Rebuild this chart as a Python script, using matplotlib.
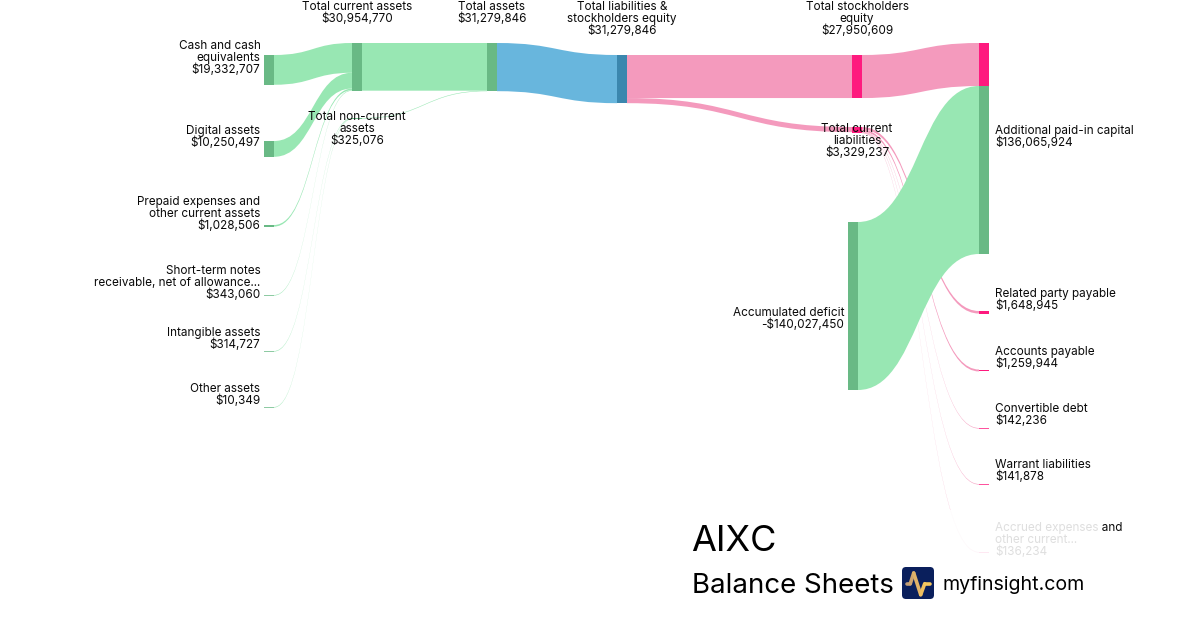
import matplotlib
matplotlib.use("Agg")
import numpy as np
import matplotlib.pyplot as plt
from matplotlib.path import Path
from matplotlib.patches import PathPatch, Rectangle, FancyBboxPatch
from matplotlib.collections import LineCollection

plt.rcParams['font.family'] = ['Inter', 'DejaVu Sans']

# ---- data (US$) ----
cash = 19332707
digital = 10250497
prepaid = 1028506
notes = 343060
intangible = 314727
other_assets = 10349
current_assets = 30954770
noncurrent_assets = 325076
total_assets = 31279846
liab_equity = 31279846
equity = 27950609
current_liab = 3329237
paid_in = 136065924
deficit = -140027450
related = 1648945
payable = 1259944
convertible = 142236
warrant = 141878
accrued = 136234

# ---- layout (pixels) ----
PX = 1.54e-6
PX_EQ = 168 / 140027450
MIN_LINK = 0.55
MIN_NODE = 1.0
NW = 10
GREEN_L, GREEN_N = '#98E7B3', '#69B985'
BLUE_L, BLUE_N = '#68B6DD', '#3B87AE'
PINK_L, PINK_N = '#F49ABD', '#FE1A7E'

nodes = {
    'cash': (264, 55, GREEN_N), 'digital': (264, 141, GREEN_N), 'prepaid': (264, 225, GREEN_N),
    'notes': (264, 295, GREEN_N), 'intangible': (264, 351, GREEN_N), 'other': (264, 407, GREEN_N),
    'tca': (352, 43, GREEN_N), 'tnca': (352, 118, GREEN_N), 'ta': (487, 43, GREEN_N),
    'tle': (617, 55, BLUE_N), 'tse': (852, 55, PINK_N), 'tcl': (852, 127, PINK_N),
    'eq': (979, 43, PINK_N), 'deficit': (848, 222, GREEN_N), 'apic': (979, 86, GREEN_N),
    'related': (979, 311, PINK_N), 'payable': (979, 369.5, PINK_N), 'convertible': (979, 428, PINK_N),
    'warrant': (979, 484, PINK_N), 'accrued': (979, 552, PINK_N),
}

links = [
    ('cash', 'tca', cash, GREEN_L, PX), ('digital', 'tca', digital, GREEN_L, PX),
    ('prepaid', 'tca', prepaid, GREEN_L, PX), ('notes', 'tca', notes, GREEN_L, PX),
    ('intangible', 'tnca', intangible, GREEN_L, PX), ('other', 'tnca', other_assets, GREEN_L, PX),
    ('tca', 'ta', current_assets, GREEN_L, PX), ('tnca', 'ta', noncurrent_assets, GREEN_L, PX),
    ('ta', 'tle', total_assets, BLUE_L, PX),
    ('tle', 'tse', equity, PINK_L, PX), ('tle', 'tcl', current_liab, PINK_L, PX),
    ('tse', 'eq', equity, PINK_L, PX),
    ('tcl', 'related', related, PINK_L, PX), ('tcl', 'payable', payable, PINK_L, PX),
    ('tcl', 'convertible', convertible, PINK_L, PX), ('tcl', 'warrant', warrant, PINK_L, PX),
    ('tcl', 'accrued', accrued, PINK_L, PX),
    ('deficit', 'apic', abs(deficit), GREEN_L, PX_EQ),
]

labels = [
    (260.5, 49, 'right', ['Cash and cash', 'equivalents', f'${cash:,}']),
    (260.5, 134, 'right', ['Digital assets', f'${digital:,}']),
    (260.5, 205, 'right', ['Prepaid expenses and', 'other current assets', f'${prepaid:,}']),
    (260.5, 274, 'right', ['Short-term notes', 'receivable, net of allowance...', f'${notes:,}']),
    (260.5, 336, 'right', ['Intangible assets', f'${intangible:,}']),
    (260.5, 392, 'right', ['Other assets', f'${other_assets:,}']),
    (357, 10, 'center', ['Total current assets', f'${current_assets:,}']),
    (357, 120, 'center', ['Total non-current', 'assets', f'${noncurrent_assets:,}']),
    (492, 10, 'center', ['Total assets', f'${total_assets:,}']),
    (622, 10, 'center', ['Total liabilities &', 'stockholders equity', f'${liab_equity:,}']),
    (857, 10, 'center', ['Total stockholders', 'equity', f'${equity:,}']),
    (857, 132, 'center', ['Total current', 'liabilities', f'${current_liab:,}']),
    (844.5, 316, 'right', ['Accumulated deficit', f'-${abs(deficit):,}']),
    (995, 134, 'left', ['Additional paid-in capital', f'${paid_in:,}']),
    (995, 297, 'left', ['Related party payable', f'${related:,}']),
    (995, 355, 'left', ['Accounts payable', f'${payable:,}']),
    (995, 412, 'left', ['Convertible debt', f'${convertible:,}']),
    (995, 468, 'left', ['Warrant liabilities', f'${warrant:,}']),
    (995, 531, 'left', ['Accrued expenses and', 'other current...', f'${accrued:,}']),
]

fig = plt.figure(figsize=(12, 6.3), dpi=100, facecolor='white')
ax = fig.add_axes([0, 0, 1, 1])
ax.set_xlim(0, 1200)
ax.set_ylim(630, 0)
ax.axis('off')


def ribbon(x0, y0, x1, y1, h, color, z):
    xm = (x0 + x1) / 2
    verts = [(x0, y0), (xm, y0), (xm, y1), (x1, y1), (x1, y1 + h),
             (xm, y1 + h), (xm, y0 + h), (x0, y0 + h), (x0, y0)]
    codes = [Path.MOVETO, Path.CURVE4, Path.CURVE4, Path.CURVE4, Path.LINETO,
             Path.CURVE4, Path.CURVE4, Path.CURVE4, Path.CLOSEPOLY]
    ax.add_patch(PathPatch(Path(verts, codes), fc=color, ec='none', lw=0, zorder=z))


out_off = {k: 0.0 for k in nodes}
in_off = {k: 0.0 for k in nodes}
for s, t, v, c, scale in links:
    h = max(v * scale, MIN_LINK)
    sx, sy, _ = nodes[s]
    tx, ty, _ = nodes[t]
    z = 2 if s == 'deficit' else (1 if s == 'tcl' else 1.5)
    ribbon(sx + NW, sy + out_off[s], tx, ty + in_off[t], h, c, z)
    out_off[s] += h
    in_off[t] += h

for k, (x, y, c) in nodes.items():
    raw = max(out_off[k], in_off[k])
    h = max(raw, MIN_NODE)
    a = 0.75 if raw <= MIN_LINK * 1.01 else 1.0
    ax.add_patch(Rectangle((x, y), NW, h, fc=c, ec='none', lw=0, alpha=a, zorder=3))

for x, y, ha, lines in labels:
    for i, line in enumerate(lines):
        ax.text(x, y + i * 12, line, ha=ha, va='baseline', fontsize=8.45, color='#0a0a0a', zorder=5)

# watermark panel
ax.add_patch(Rectangle((685, 510), 415, 90, fc='white', ec='none', alpha=0.87, zorder=6))
ax.text(691, 551, 'AIXC', fontsize=26, ha='left', va='baseline', color='black', zorder=7)
ax.text(692, 593, 'Balance Sheets', fontsize=19.9, ha='left', va='baseline', color='black', zorder=7)
ax.text(942, 590, 'myfinsight.com', fontsize=14.1, ha='left', va='baseline', color='black', zorder=7)

# logo
ax.add_patch(FancyBboxPatch((904, 569), 28, 28, boxstyle='round,pad=2,rounding_size=4',
                            fc='#0A1F5C', ec='none', zorder=7))
lx = [907, 910.3, 913.7, 920.7, 924.7, 930.3]
ly = [583.7, 583.7, 573, 594.7, 583.7, 583.7]
pts = np.column_stack([lx, ly]).reshape(-1, 1, 2)
segs = np.concatenate([pts[:-1], pts[1:]], axis=1)
cols = ['#C09E78', '#CFA56F', '#E0B268', '#F0C060', '#F6C85E']
ax.add_collection(LineCollection(segs, colors=cols, linewidths=2.6, capstyle='round',
                                 joinstyle='round', zorder=8))

fig.savefig('out.png', dpi=100)
